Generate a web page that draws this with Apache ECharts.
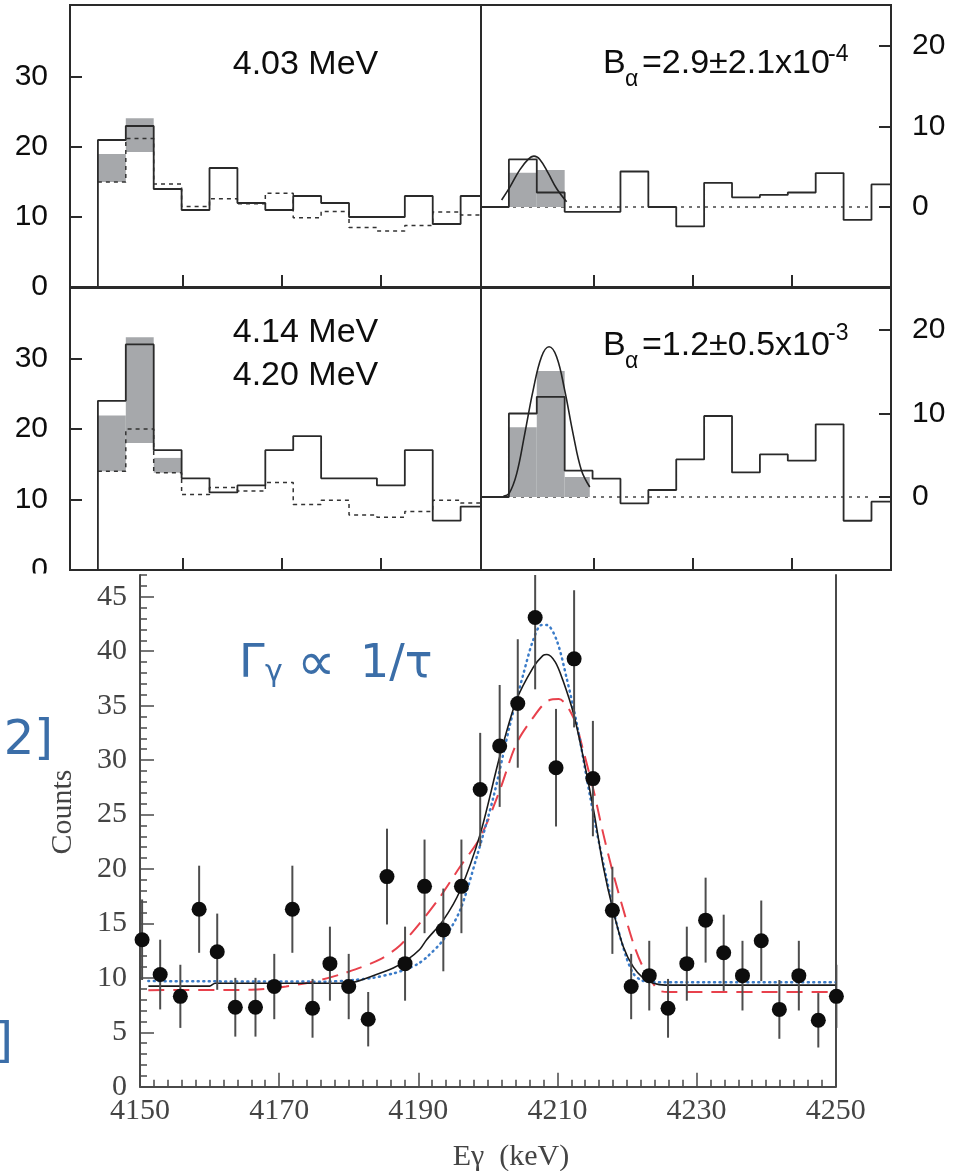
<!DOCTYPE html>
<html><head><meta charset="utf-8">
<script src="https://cdn.jsdelivr.net/npm/echarts@6/dist/echarts.min.js"></script>
<style>html,body{margin:0;padding:0;background:#fff}#c{width:961px;height:1171px}</style>
</head><body><div id="c"></div>
<script>
// ---------- data: top four histogram panels (x in bin units) ----------
const binStarts = [0,1,2,3,4,5,6,7,8,9,10,11,12,13];
const topTickPositions = [3.05, 6.6, 10.15];
const leftYTicks = [0, 10, 20, 30];
const rightYTicks = [0, 10, 20];

const ulSolid  = [21,23,14,11,17,12,11,13,12,10,10,13,9,13];
const ulDotted = [15,21.2,14.7,11.5,12.6,11.9,13.4,9.9,10.8,8.5,8.0,8.8,10.7,10.3];
const ulBand   = [[0,1,15,19],[1,2,19.3,24.1]];

const urSolid  = [5.9,1.8,-0.6,-0.6,4.4,0,-2.4,3.0,1.2,1.5,1.8,4.2,-1.6,2.8];
const urBand   = [[0,1,0,4.25],[1,2,0,4.6]];
const urFit    = [[-0.26,0.87],[0.04,2.5],[0.39,4.6],[0.69,5.9],[0.9,6.3],[1.11,5.9],[1.41,4.2],[1.71,2.3],[2.07,0.66]];

const llSolid  = [24,32,17,13,11,12,17,19,13,13,12,17,7,9];
const llDotted = [14,20,13.8,10.7,11.7,11.2,12.4,9.3,9.9,7.8,7.5,8.3,9.9,9.5];
const llBand   = [[0,1,14,21.9],[1,2,18,33],[2,3,13.8,15.9]];

const lrSolid  = [10,12,3.15,2.2,-0.76,0.84,4.5,9.7,2.95,5.1,4.35,8.7,-2.84,-0.56];
const lrBand   = [[0,1,0,8.35],[1,2,0,15.1],[2,2.9,0,2.4]];
const lrFit    = [[-0.2,0.1],[0.01,0.44],[0.28,2.8],[0.57,7.6],[0.87,12.8],[1.17,16.8],[1.44,18.0],[1.71,16.8],[2.0,12.8],[2.3,7.6],[2.6,3.2],[2.9,1.2]];

// ---------- data: bottom spectrum ----------
const energies = [4150.3,4152.9,4155.8,4158.5,4161.1,4163.7,4166.6,4169.3,4171.9,4174.8,4177.3,4180.0,4182.8,4185.5,4188.1,4190.9,4193.6,4196.2,4198.9,4201.7,4204.3,4206.8,4209.8,4212.4,4215.1,4217.9,4220.6,4223.2,4225.9,4228.6,4231.3,4233.9,4236.6,4239.3,4241.9,4244.7,4247.5,4250.1];
const counts   = [13.5,10.3,8.3,16.3,12.4,7.3,7.3,9.2,16.3,7.2,11.3,9.2,6.2,19.3,11.3,18.4,14.4,18.4,27.3,31.3,35.2,43.1,29.3,39.3,28.3,16.2,9.2,10.2,7.2,11.3,15.3,12.3,10.2,13.4,7.1,10.2,6.1,8.3];
const errors   = [3.7,3.2,2.9,4.0,3.5,2.7,2.7,3.0,4.0,2.7,3.4,3.0,2.5,4.4,3.4,4.3,3.8,4.3,5.2,5.6,5.9,6.6,5.4,6.3,5.3,4.0,3.0,3.2,2.7,3.4,3.9,3.5,3.2,3.7,2.7,3.2,2.5,2.9];
const blackFit = [[4151.2,9.24],[4160,9.24],[4160.8,9.5],[4178,9.5],[4180.7,9.6],[4183.5,10.2],[4186.4,10.9],[4188.3,11.6],[4190.2,12.6],[4191.2,13.5],[4193.6,15.3],[4196.0,18.0],[4198.9,23.2],[4201.7,30.3],[4204.1,35.5],[4206.5,38.5],[4207.9,39.6],[4208.5,39.7],[4209.7,39.0],[4210.8,37.3],[4212.3,34.3],[4213.7,30.3],[4215.2,25.4],[4216.6,20.2],[4218.0,16.2],[4219.5,12.8],[4220.9,11.0],[4222.3,10.0],[4223.8,9.5],[4225.5,9.33],[4250,9.33]];
const blueFit  = [[4151.2,9.7],[4176.8,9.65],[4180.7,9.8],[4183.5,10.0],[4186.4,10.4],[4188.3,10.8],[4190.0,11.3],[4191.4,12.0],[4193.6,13.5],[4196.0,16.2],[4198.4,21.1],[4200.8,26.6],[4203.2,33.3],[4205.1,37.9],[4206.5,41.0],[4207.7,42.4],[4208.5,42.4],[4209.9,41.0],[4211.3,37.6],[4212.8,33.3],[4214.2,28.4],[4215.6,23.6],[4217.1,19.0],[4218.5,15.0],[4219.9,11.9],[4220.9,10.4],[4222,9.8],[4223.5,9.6],[4250,9.6]];
const redFit   = [[4151.2,8.87],[4166,8.9],[4171,9.2],[4175.9,9.8],[4179.7,10.5],[4184.5,11.7],[4187.4,13.0],[4190.2,15.0],[4193.1,17.4],[4196.0,20.2],[4198.9,22.9],[4201.7,27.2],[4204.1,31.5],[4206.5,33.9],[4208.5,35.4],[4210.2,35.6],[4212.3,33.9],[4213.7,30.9],[4215.2,27.2],[4216.6,23.2],[4218.0,19.6],[4219.5,16.2],[4220.9,13.2],[4222.3,11.0],[4224.5,8.9],[4226,8.7],[4250,8.7]];
const bottomYLabels = [0,5,10,15,20,25,30,35,40,45];

// ---------- helpers ----------
const SANS = "'Liberation Sans', Arial, sans-serif";
const SERIF = "'Liberation Serif', 'Times New Roman', serif";
const BLUEFONT = "'DejaVu Sans', sans-serif";
const GRAY = '#a6a8ab';
const LINE = '#2a2a2a';
const TXT = '#0d0d0d';
const BOTTOM_YMAX = 47;

function stepData(vals, xStart, startVal, xEnd) {
  const d = [[xStart, startVal]];
  vals.forEach((v, i) => d.push([binStarts[i], v]));
  d.push([xEnd, vals[vals.length - 1]]);
  return d;
}
function bandSeries(data, xi, yi) {
  return {
    type: 'custom', xAxisIndex: xi, yAxisIndex: yi, z: 2, data: data,
    encode: { x: [0, 1], y: [2, 3] },
    renderItem: function (params, api) {
      const a = api.coord([api.value(0), api.value(3)]);
      const b = api.coord([api.value(1), api.value(2)]);
      return { type: 'rect', shape: { x: a[0], y: a[1], width: b[0] - a[0], height: b[1] - a[1] }, style: { fill: GRAY } };
    }
  };
}
function stepSeries(data, xi, yi, dotted) {
  return {
    type: 'line', xAxisIndex: xi, yAxisIndex: yi, step: 'end', data: data, showSymbol: false, silent: true,
    z: dotted ? 3 : 4,
    lineStyle: dotted ? { color: '#333', width: 1.5, type: [4, 4] } : { color: LINE, width: 1.8 }
  };
}
function fitSeries(data, xi, yi) {
  return { type: 'line', xAxisIndex: xi, yAxisIndex: yi, data: data, smooth: 0.4, showSymbol: false, z: 5,
    lineStyle: { color: '#222', width: 1.6 } };
}
function baseline(xi, yi) {
  return { type: 'line', xAxisIndex: xi, yAxisIndex: yi, data: [[-1, 0], [13, 0]], showSymbol: false, z: 1,
    lineStyle: { color: '#444', width: 1.5, type: [3, 5] } };
}
function topX(grid, max) {
  return { type: 'value', gridIndex: grid, min: -1, max: max, position: 'bottom',
    axisLine: { show: false, onZero: false }, splitLine: { show: false },
    axisTick: { show: true, inside: true, length: 12, customValues: topTickPositions, lineStyle: { color: LINE, width: 2 } },
    axisLabel: { show: false } };
}
function topY(grid, min, max, pos, ticks) {
  return { type: 'value', gridIndex: grid, min: min, max: max, position: pos,
    axisLine: { show: false, onZero: false }, splitLine: { show: false },
    axisTick: { show: true, inside: true, length: 12, customValues: ticks, lineStyle: { color: LINE, width: 2 } },
    axisLabel: { show: true, customValues: ticks, margin: pos === 'left' ? 22 : 21, fontFamily: SANS, fontSize: 30, color: TXT } };
}

const gridBorder = { show: true, borderColor: LINE, borderWidth: 2, backgroundColor: 'transparent' };
function t(x, y, text, font, extra) {
  return Object.assign({ type: 'text', z: 10, x: x, y: y,
    style: Object.assign({ text: text, font: font, fill: TXT, align: 'left', verticalAlign: 'middle' }, extra || {}) });
}

const option = {
  animation: false,
  backgroundColor: '#fff',
  grid: [
    Object.assign({ left: 70, top: 5, width: 411, height: 282 }, gridBorder),
    Object.assign({ left: 481, top: 5, width: 410, height: 282 }, gridBorder),
    Object.assign({ left: 70, top: 288, width: 411, height: 282 }, gridBorder),
    Object.assign({ left: 481, top: 288, width: 410, height: 282 }, gridBorder),
    { left: 140, top: 575, width: 695.7, height: 511.7, show: false }
  ],
  xAxis: [
    topX(0, 13.73), topX(1, 13.70), topX(2, 13.73), topX(3, 13.70),
    { type: 'value', gridIndex: 4, min: 4150, max: 4250, interval: 20, z: 60, position: 'bottom',
      axisLine: { show: true, onZero: false, lineStyle: { color: '#4a4a4a', width: 2 } },
      axisTick: { show: true, inside: true, length: 14, lineStyle: { color: '#4a4a4a', width: 1.5 } },
      minorTick: { show: true, splitNumber: 10, length: 7, lineStyle: { color: '#4a4a4a', width: 1.5 } },
      splitLine: { show: false }, minorSplitLine: { show: false },
      axisLabel: { fontFamily: SERIF, fontSize: 30, color: '#444', margin: 9, formatter: v => String(v) } }
  ],
  yAxis: [
    topY(0, 0, 40.29, 'left', leftYTicks),
    topY(1, -9.91, 25.03, 'right', rightYTicks),
    topY(2, 0, 40, 'left', leftYTicks),
    topY(3, -8.74, 25.03, 'right', rightYTicks),
    { type: 'value', gridIndex: 4, min: 0, max: BOTTOM_YMAX, position: 'left', z: 60,
      axisLine: { show: true, onZero: false, lineStyle: { color: '#4a4a4a', width: 2 } },
      axisTick: { show: true, inside: true, length: 14, customValues: bottomYLabels, lineStyle: { color: '#4a4a4a', width: 1.5 } },
      axisLabel: { show: true, customValues: bottomYLabels, fontFamily: SERIF, fontSize: 30, color: '#444', margin: 13 },
      splitLine: { show: false } },
    { type: 'value', gridIndex: 4, min: 0, max: BOTTOM_YMAX, interval: 1, position: 'left', z: 60,
      axisLine: { show: false, onZero: false },
      axisTick: { show: true, inside: true, length: 7, lineStyle: { color: '#4a4a4a', width: 1.5 } },
      axisLabel: { show: false }, splitLine: { show: false } },
    { type: 'value', gridIndex: 4, min: 0, max: BOTTOM_YMAX, position: 'right', z: 60,
      axisLine: { show: true, onZero: false, lineStyle: { color: '#4a4a4a', width: 2 } },
      axisTick: { show: false }, axisLabel: { show: false }, splitLine: { show: false } }
  ],
  graphic: [
    { type: 'rect', z: 50, shape: { x: 0, y: 573.5, width: 961, height: 600 }, style: { fill: '#fff' } },
    // top panel titles
    t(305.5, 64.5, '4.03 MeV', '34px ' + SANS, { align: 'center' }),
    t(305.5, 333, '4.14 MeV', '34px ' + SANS, { align: 'center' }),
    t(305.5, 376, '4.20 MeV', '34px ' + SANS, { align: 'center' }),
    // B_alpha upper
    t(603, 64, 'B', '34px ' + SANS),
    t(625, 80, 'α', '23px ' + SANS),
    t(642, 64, '=2.9±2.1x10', '34px ' + SANS),
    t(828, 55, '-4', '23px ' + SANS),
    // B_alpha lower
    t(603, 345.5, 'B', '34px ' + SANS),
    t(625, 361.5, 'α', '23px ' + SANS),
    t(642, 345.5, '=1.2±0.5x10', '34px ' + SANS),
    t(828, 334, '-3', '23px ' + SANS),
    // bottom axis names
    Object.assign(t(63, 812, 'Counts', '30px ' + SERIF, { align: 'center', fill: '#444' }), { z: 70, rotation: Math.PI / 2 }),
    Object.assign(t(511, 1157, 'Eγ  (keV)', '30px ' + SERIF, { align: 'center', fill: '#444' }), { z: 70 }),
    // blue annotations
    Object.assign(t(239, 665, 'Γ', '46px ' + BLUEFONT, { fill: '#3b6ea8' }), { z: 70 }),
    Object.assign(t(265, 673, 'γ', '30px ' + BLUEFONT, { fill: '#3b6ea8' }), { z: 70 }),
    Object.assign(t(297, 666, '∝', '54px ' + BLUEFONT, { fill: '#3b6ea8' }), { z: 70 }),
    Object.assign(t(360, 665, '1/τ', '46px ' + BLUEFONT, { fill: '#3b6ea8' }), { z: 70 }),
    Object.assign(t(53, 742, '[2]', '48px ' + BLUEFONT, { fill: '#3b6ea8', align: 'right' }), { z: 70 }),
    Object.assign(t(13, 1045, ']', '48px ' + BLUEFONT, { fill: '#3b6ea8', align: 'right' }), { z: 70 })
  ],
  series: [
    // upper-left
    bandSeries(ulBand, 0, 0),
    stepSeries(stepData(ulDotted, 0, ulDotted[0], 13.73), 0, 0, true),
    stepSeries(stepData(ulSolid, 0, 0, 13.73), 0, 0, false),
    // upper-right
    baseline(1, 1),
    bandSeries(urBand, 1, 1),
    stepSeries(stepData(urSolid, -1, 0, 13.70), 1, 1, false),
    fitSeries(urFit, 1, 1),
    // lower-left
    bandSeries(llBand, 2, 2),
    stepSeries(stepData(llDotted, 0, llDotted[0], 13.73), 2, 2, true),
    stepSeries(stepData(llSolid, 0, 0, 13.73), 2, 2, false),
    // lower-right
    baseline(3, 3),
    bandSeries(lrBand, 3, 3),
    stepSeries(stepData(lrSolid, -1, 0, 13.70), 3, 3, false),
    fitSeries(lrFit, 3, 3),
    // bottom spectrum
    { type: 'line', xAxisIndex: 4, yAxisIndex: 4, data: redFit, smooth: 0.3, showSymbol: false, z: 61,
      lineStyle: { color: '#e8414c', width: 2, type: [16, 9] } },
    { type: 'line', xAxisIndex: 4, yAxisIndex: 4, data: blueFit, smooth: 0.3, showSymbol: false, z: 61,
      lineStyle: { color: '#3a7bc8', width: 2.5, type: [1, 4.5], cap: 'round' } },
    { type: 'line', xAxisIndex: 4, yAxisIndex: 4, data: blackFit, smooth: 0.3, showSymbol: false, z: 62,
      lineStyle: { color: '#1a1a1a', width: 1.6 } },
    { type: 'custom', xAxisIndex: 4, yAxisIndex: 4, z: 63, clip: false,
      data: energies.map((e, i) => [e, counts[i], errors[i]]),
      encode: { x: 0, y: 1 },
      renderItem: function (params, api) {
        const x = api.value(0), y = api.value(1), e = api.value(2);
        const p1 = api.coord([x, Math.max(y - e, 0)]);
        const p2 = api.coord([x, Math.min(y + e, BOTTOM_YMAX)]);
        return { type: 'line', shape: { x1: p1[0], y1: p1[1], x2: p2[0], y2: p2[1] }, style: { stroke: '#4d4d4d', lineWidth: 2 } };
      } },
    { type: 'scatter', xAxisIndex: 4, yAxisIndex: 4, z: 64, clip: false, symbol: 'circle', symbolSize: 15,
      data: energies.map((e, i) => [e, counts[i]]), itemStyle: { color: '#0d0d0d', opacity: 1 } }
  ]
};
const chart = echarts.init(document.getElementById('c'), null, { renderer: 'canvas' });
chart.setOption(option);
</script></body></html>
